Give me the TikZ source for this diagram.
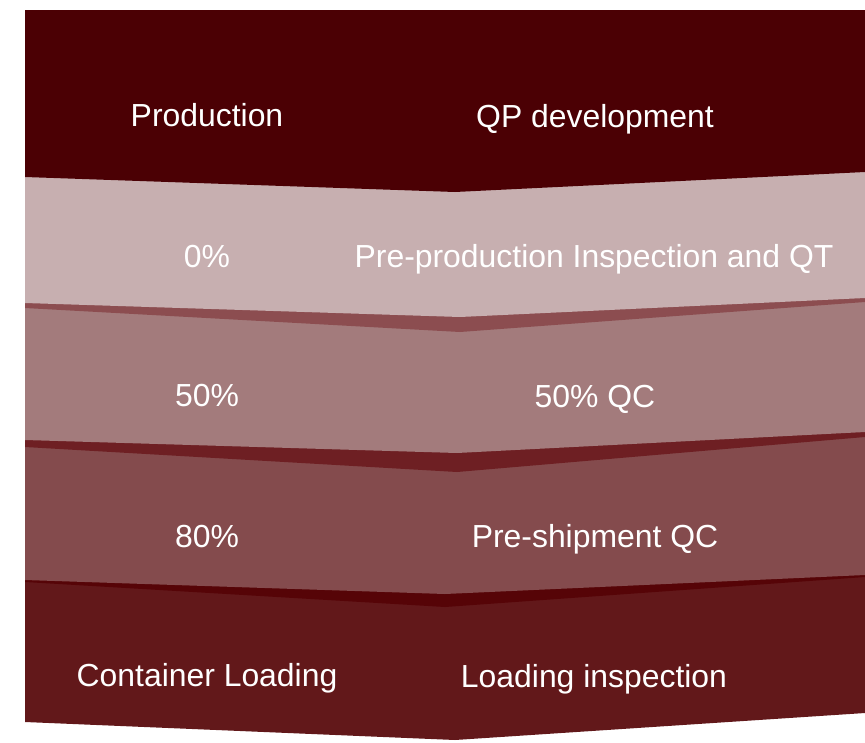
\documentclass[tikz,border=0pt]{standalone}
\usepackage{fontspec}
\setmainfont{Liberation Sans}
\definecolor{cone}{HTML}{4B0004}
\definecolor{ctwo}{HTML}{C7AFB0}
\definecolor{sttwo}{HTML}{8C4D50}
\definecolor{cthree}{HTML}{A37B7C}
\definecolor{stthree}{HTML}{6E1F23}
\definecolor{cfour}{HTML}{844B4D}
\definecolor{stfour}{HTML}{560407}
\definecolor{cfive}{HTML}{62181A}
\tikzset{
  lbl/.style={text=white, anchor=base, inner sep=0pt, font=\fontsize{31.9}{38}\selectfont},
}
\begin{document}
\begin{tikzpicture}[x=1pt,y=-1pt]
\useasboundingbox (0,0) rectangle (865,742);
% layered bands, drawn from the lowest to the highest
\fill[cfive]   (25,10) -- (865,10) -- (865,713) -- (455,740) -- (25,722) -- cycle;
\fill[stfour]  (25,10) -- (865,10) -- (865,577) -- (445,607) -- (25,582) -- cycle;
\fill[cfour]   (25,10) -- (865,10) -- (865,575) -- (445,594) -- (25,580) -- cycle;
\fill[stthree] (25,10) -- (865,10) -- (865,437) -- (457,472) -- (25,447) -- cycle;
\fill[cthree]  (25,10) -- (865,10) -- (865,432) -- (457,453) -- (25,440) -- cycle;
\fill[sttwo]   (25,10) -- (865,10) -- (865,302) -- (460,332) -- (25,308) -- cycle;
\fill[ctwo]    (25,10) -- (865,10) -- (865,298) -- (460,317) -- (25,303) -- cycle;
\fill[cone]    (25,10) -- (865,10) -- (865,172) -- (455,192) -- (25,177) -- cycle;
% labels
\node[lbl] (prod) at (207,126) {Production};
\node[lbl] (qpd)  at (595,127) {QP development};
\node[lbl] (p0)   at (207,267) {0\%};
\node[lbl] (ppi)  at (594,267) {Pre-production Inspection and QT};
\node[lbl] (p50)  at (207,406) {50\%};
\node[lbl] (qc50) at (595,407) {50\% QC};
\node[lbl] (p80)  at (207,547) {80\%};
\node[lbl] (psq)  at (595,547) {Pre-shipment QC};
\node[lbl] (cl)   at (207,686) {Container Loading};
\node[lbl] (li)   at (594,687) {Loading inspection};
\end{tikzpicture}
\end{document}
